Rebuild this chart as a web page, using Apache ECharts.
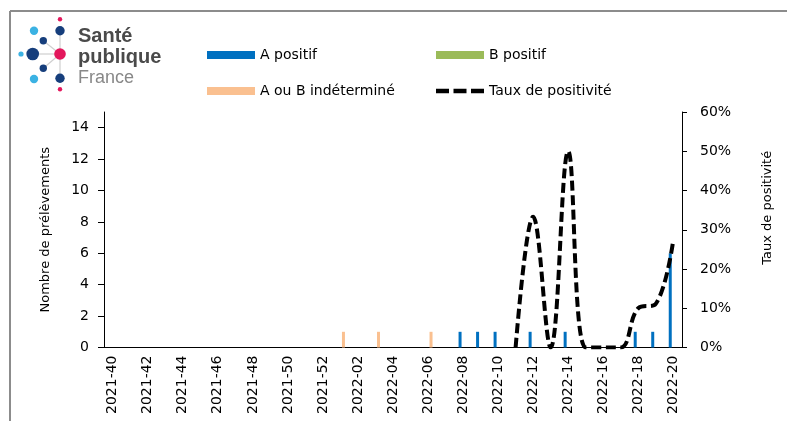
<!DOCTYPE html>
<html>
<head>
<meta charset="utf-8">
<script src="https://cdn.jsdelivr.net/npm/echarts@6/dist/echarts.min.js"></script>
<style>
html,body{margin:0;padding:0;background:#fff;}
#chart{width:787px;height:421px;}
</style>
</head>
<body>
<div id="chart"></div>
<script>
var weeks = ['2021-40','2021-41','2021-42','2021-43','2021-44','2021-45','2021-46','2021-47','2021-48','2021-49','2021-50','2021-51','2021-52',
  '2022-01','2022-02','2022-03','2022-04','2022-05','2022-06','2022-07','2022-08','2022-09','2022-10','2022-11','2022-12','2022-13','2022-14','2022-15','2022-16','2022-17','2022-18','2022-19','2022-20'];
var aPositif = [0,0,0,0,0,0,0,0,0,0,0,0,0, 0,0,0,0,0,0,0,1,1,1,0,1,0,1,0,0,0,1,1,6];
var bPositif = [0,0,0,0,0,0,0,0,0,0,0,0,0, 0,0,0,0,0,0,0,0,0,0,0,0,0,0,0,0,0,0,0,0];
var indetermine = [0,0,0,0,0,0,0,0,0,0,0,0,0, 1,0,1,0,0,1,0,0,0,0,0,0,0,0,0,0,0,0,0,0];
var tauxPositivite = [null,null,null,null,null,null,null,null,null,null,null,null,null,
  null,null,null,null,null,null,null,null,null,null,0,0.333,0,0.5,0,0,0,0.1,0.111,0.273];
var leftTicks = [0,2,4,6,8,10,12,14];
var rightTicks = [0,0.1,0.2,0.3,0.4,0.5,0.6];

var FONT = 'DejaVu Sans';
var chart = echarts.init(document.getElementById('chart'), null, {renderer:'canvas'});

var dashIcon = 'path://M0,0L13,0L13,4.5L0,4.5Z M17.5,0L30.5,0L30.5,4.5L17.5,4.5Z M35,0L48,0L48,4.5L35,4.5Z';

function legendAt(name, left, top, isLine){
  var l = {
    left:left, top:top, padding:0, itemGap:0,
    itemWidth:48, itemHeight: isLine ? 4.5 : 8,
    textStyle:{fontFamily:FONT, fontSize:14, color:'#000'},
    data:[name]
  };
  l.icon = isLine ? dashIcon : 'rect';
  return l;
}

var navy = '#163e7c', pink = '#e3175c', lblue = '#3bb2e3', lineGrey = '#cfcfcf';
function dot(x,y,r,c){ return {type:'circle', shape:{cx:x,cy:y,r:r}, style:{fill:c}, silent:true}; }
function seg(x1,y1,x2,y2){ return {type:'line', shape:{x1:x1,y1:y1,x2:x2,y2:y2}, style:{stroke:lineGrey, lineWidth:1.2}, silent:true}; }

var option = {
  animation:false,
  backgroundColor:'#fff',
  textStyle:{fontFamily:FONT},
  grid:{left:104, right:105, top:112, bottom:73.5, containLabel:false},
  legend:[
    legendAt('A positif', 207, 48, false),
    legendAt('B positif', 436, 48, false),
    legendAt('A ou B indéterminé', 207, 84, false),
    legendAt('Taux de positivité', 436, 84, true)
  ],
  xAxis:{
    type:'category', data:weeks,
    axisLine:{lineStyle:{color:'#000', width:1}},
    axisTick:{show:false},
    axisLabel:{interval:1, rotate:90, margin:8, fontFamily:FONT, fontSize:14, color:'#000'}
  },
  yAxis:[
    {
      type:'value', min:0, max:15,
      name:'Nombre de prélèvements', nameLocation:'middle', nameRotate:90, nameGap:52,
      nameTextStyle:{fontFamily:FONT, fontSize:13, color:'#000'},
      axisLine:{show:true, lineStyle:{color:'#000', width:1}},
      axisTick:{show:true, length:6, customValues:leftTicks, lineStyle:{color:'#000'}},
      axisLabel:{customValues:leftTicks, margin:15, fontFamily:FONT, fontSize:14, color:'#000'},
      splitLine:{show:false}
    },
    {
      type:'value', min:0, max:0.6, interval:0.1, position:'right',
      name:'Taux de positivité', nameLocation:'middle', nameRotate:90, nameGap:79,
      nameTextStyle:{fontFamily:FONT, fontSize:13, color:'#000', padding:[0,0,0,44]},
      axisLine:{show:true, lineStyle:{color:'#000', width:1}},
      axisTick:{show:true, length:5, customValues:rightTicks, lineStyle:{color:'#000'}},
      axisLabel:{customValues:rightTicks, margin:18, fontFamily:FONT, fontSize:14, color:'#000',
        formatter:function(v){ return Math.round(v*100) + '%'; }},
      splitLine:{show:false}
    }
  ],
  series:[
    {name:'A positif', type:'bar', data:aPositif, barWidth:3, barGap:'0%', itemStyle:{color:'#0070c0'}},
    {name:'B positif', type:'bar', data:bPositif, barWidth:3, barGap:'0%', itemStyle:{color:'#9bbb59'}},
    {name:'A ou B indéterminé', type:'bar', data:indetermine, barWidth:3, barGap:'0%', itemStyle:{color:'#fac090'}},
    {name:'Taux de positivité', type:'line', yAxisIndex:1, data:tauxPositivite, smooth:0.4,
      symbol:'none', showSymbol:false, connectNulls:false,
      lineStyle:{color:'#000', width:4, type:[10,4.5]},
      itemStyle:{color:'#000'}}
  ],
  graphic:[
    {type:'line', shape:{x1:10,y1:11,x2:787,y2:11}, style:{stroke:'#8c8c8c', lineWidth:2}, silent:true},
    {type:'line', shape:{x1:10,y1:11,x2:10,y2:421}, style:{stroke:'#8c8c8c', lineWidth:2}, silent:true},
    seg(60,30.7,60,78.3), seg(60,54,32.7,54), seg(60,54,43.3,40.7), seg(60,54,43.3,68.3),
    dot(60,19.3,2.2,pink), dot(60,30.7,4.7,navy), dot(34,30.7,4.2,lblue), dot(43.3,40.7,3.7,navy),
    dot(21,54,2.6,lblue), dot(32.7,54,6.3,navy), dot(60,54,5.8,pink), dot(43.3,68.3,3.7,navy),
    dot(34,79,4.2,lblue), dot(60,78.3,4.7,navy), dot(60,89.3,2.2,pink),
    {type:'text', left:78, top:26, style:{text:'Santé', font:'bold 20px "Liberation Sans"', fill:'#4a4a4a'}, silent:true},
    {type:'text', left:78, top:47, style:{text:'publique', font:'bold 20px "Liberation Sans"', fill:'#4a4a4a'}, silent:true},
    {type:'text', left:78, top:69, style:{text:'France', font:'18px "Liberation Sans"', fill:'#888888'}, silent:true}
  ]
};
chart.setOption(option);
</script>
</body>
</html>
